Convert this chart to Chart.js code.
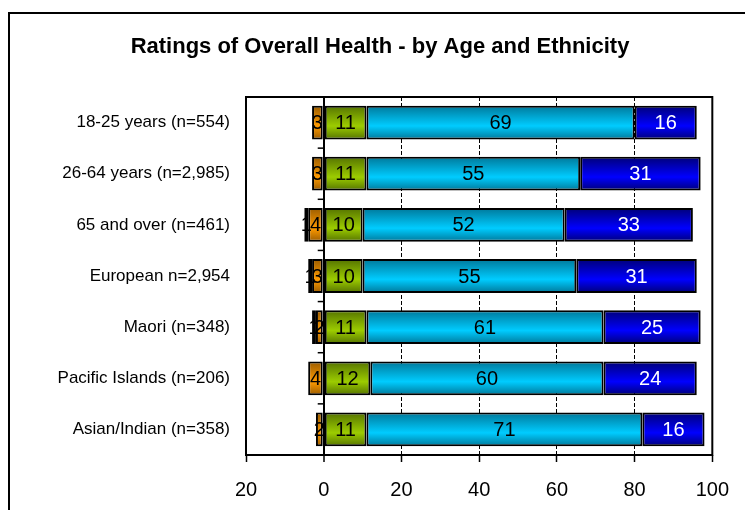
<!DOCTYPE html>
<html>
<head>
<meta charset="utf-8">
<script src="https://cdn.jsdelivr.net/npm/chart.js@4.4.1/dist/chart.umd.min.js"></script>
<style>
  html, body { margin: 0; padding: 0; background: #fff; }
  #wrap { width: 745px; height: 510px; }
</style>
</head>
<body>
<div id="wrap"><canvas id="chart1" width="745" height="510"></canvas></div>
<script>
// Ratings of overall health, percent of each group
const groups = [
    '18-25 years (n=554)',
    '26-64 years (n=2,985)',
    '65 and over (n=461)',
    'European n=2,954',
    'Maori (n=348)',
    'Pacific Islands (n=206)',
    'Asian/Indian (n=358)'
];

// left of zero
const poor = [0, 0, 1, 1, 1, 0, 0];
const fair = [3, 3, 4, 3, 2, 4, 2];
// right of zero
const good = [11, 11, 10, 10, 11, 12, 11];
const veryGood = [69, 55, 52, 55, 61, 60, 71];
const excellent = [16, 31, 33, 31, 25, 24, 16];

const xTicks = [-20, 0, 20, 40, 60, 80, 100];

const FONT = "'Liberation Sans', Arial, sans-serif";
const BAR_PCT = 0.66;

// Excel style shading: dark top, bright middle, dark bottom
function shade(dark, light) {
    return function(ctx) {
        const chart = ctx.chart;
        const y = chart.scales.y;
        if (!y || ctx.dataIndex === undefined) return light;
        const c = y.getPixelForValue(ctx.dataIndex);
        const h = (y.height / groups.length) * BAR_PCT;
        if (!isFinite(c)) return light;
        const g = chart.ctx.createLinearGradient(0, c - h / 2, 0, c + h / 2);
        g.addColorStop(0, dark);
        g.addColorStop(0.6, light);
        g.addColorStop(1, dark);
        return g;
    };
}

const datasets = [
    { label: 'Fair', data: fair.map(v => -v), dark: '#9a5c00', light: '#ff9a00', text: '#000' },
    { label: 'Poor', data: poor.map(v => -v), dark: '#700000', light: '#e00000', text: '#000' },
    { label: 'Good', data: good, dark: '#557300', light: '#9ccc00', text: '#000' },
    { label: 'Very good', data: veryGood, dark: '#00789a', light: '#00ccff', text: '#000' },
    { label: 'Excellent', data: excellent, dark: '#000078', light: '#0000ff', text: '#fff' }
].map(d => ({
    label: d.label,
    data: d.data,
    textColor: d.text,
    backgroundColor: shade(d.dark, d.light),
    borderColor: '#000',
    borderWidth: 2,
    borderSkipped: false,
    barPercentage: BAR_PCT,
    categoryPercentage: 1
}));

// frame, category ticks on the zero line, and value labels
const decor = {
    id: 'decor',
    beforeDraw(chart) {
        const c = chart.ctx;
        c.save();
        c.fillStyle = '#fff';
        c.fillRect(0, 0, chart.width, chart.height);
        c.strokeStyle = '#000';
        c.lineWidth = 2;
        c.strokeRect(9, 13, chart.width + 20, chart.height + 20);
        c.restore();
    },
    afterDatasetsDraw(chart) {
        const c = chart.ctx;
        c.save();
        c.font = '20px ' + FONT;
        c.textAlign = 'center';
        c.textBaseline = 'middle';
        chart.data.datasets.forEach((ds, i) => {
            const meta = chart.getDatasetMeta(i);
            meta.data.forEach((bar, j) => {
                const v = Math.abs(ds.data[j]);
                if (!v) return;
                c.fillStyle = ds.textColor;
                c.fillText(String(v), (bar.x + bar.base) / 2, bar.y + 1);
            });
        });
        c.restore();
    },
    afterDraw(chart) {
        const a = chart.chartArea;
        const c = chart.ctx;
        const x0 = chart.scales.x.getPixelForValue(0);
        const y = chart.scales.y;
        c.save();
        c.strokeStyle = '#000';
        c.lineWidth = 2;
        c.strokeRect(a.left, a.top, a.right - a.left, a.bottom - a.top);
        c.lineWidth = 1.5;
        for (let i = 0; i < groups.length - 1; i++) {
            const yy = y.getPixelForValue(i + 0.5);
            c.beginPath();
            c.moveTo(x0 - 6, yy);
            c.lineTo(x0, yy);
            c.stroke();
        }
        c.restore();
    }
};

new Chart(document.getElementById('chart1'), {
    type: 'bar',
    data: { labels: groups, datasets: datasets },
    options: {
        indexAxis: 'y',
        responsive: false,
        animation: false,
        layout: { padding: { left: 46, right: 31, top: 0, bottom: 0 } },
        plugins: {
            legend: { display: false },
            tooltip: { enabled: false },
            title: {
                display: true,
                text: 'Ratings of Overall Health - by Age and Ethnicity',
                color: '#000',
                font: { family: FONT, size: 22, weight: 'bold' },
                padding: { top: 34, bottom: 36.6 }
            }
        },
        scales: {
            x: {
                stacked: true,
                min: xTicks[0],
                max: xTicks[xTicks.length - 1],
                afterBuildTicks: s => { s.ticks = xTicks.map(v => ({ value: v })); },
                afterFit: s => { s.height = 55; },
                ticks: {
                    color: '#000',
                    font: { family: FONT, size: 20 },
                    padding: 16,
                    callback: v => String(Math.abs(v))
                },
                grid: {
                    drawTicks: true,
                    tickLength: 7,
                    tickColor: '#000',
                    tickWidth: 1.5,
                    color: ctx => (ctx.tick && (ctx.tick.value === xTicks[0] || ctx.tick.value === xTicks[xTicks.length - 1])) ? 'rgba(0,0,0,0)' : '#000',
                    lineWidth: ctx => (ctx.tick && ctx.tick.value === 0) ? 2 : 1
                },
                border: {
                    display: false,
                    dash: ctx => (ctx.tick && ctx.tick.value === 0) ? [] : [4, 2]
                }
            },
            y: {
                stacked: true,
                afterFit: s => { s.width = 200; },
                ticks: {
                    color: '#000',
                    font: { family: FONT, size: 17 },
                    padding: 16
                },
                grid: { display: false, drawTicks: false },
                border: { display: false }
            }
        }
    },
    plugins: [decor]
});
</script>
</body>
</html>
